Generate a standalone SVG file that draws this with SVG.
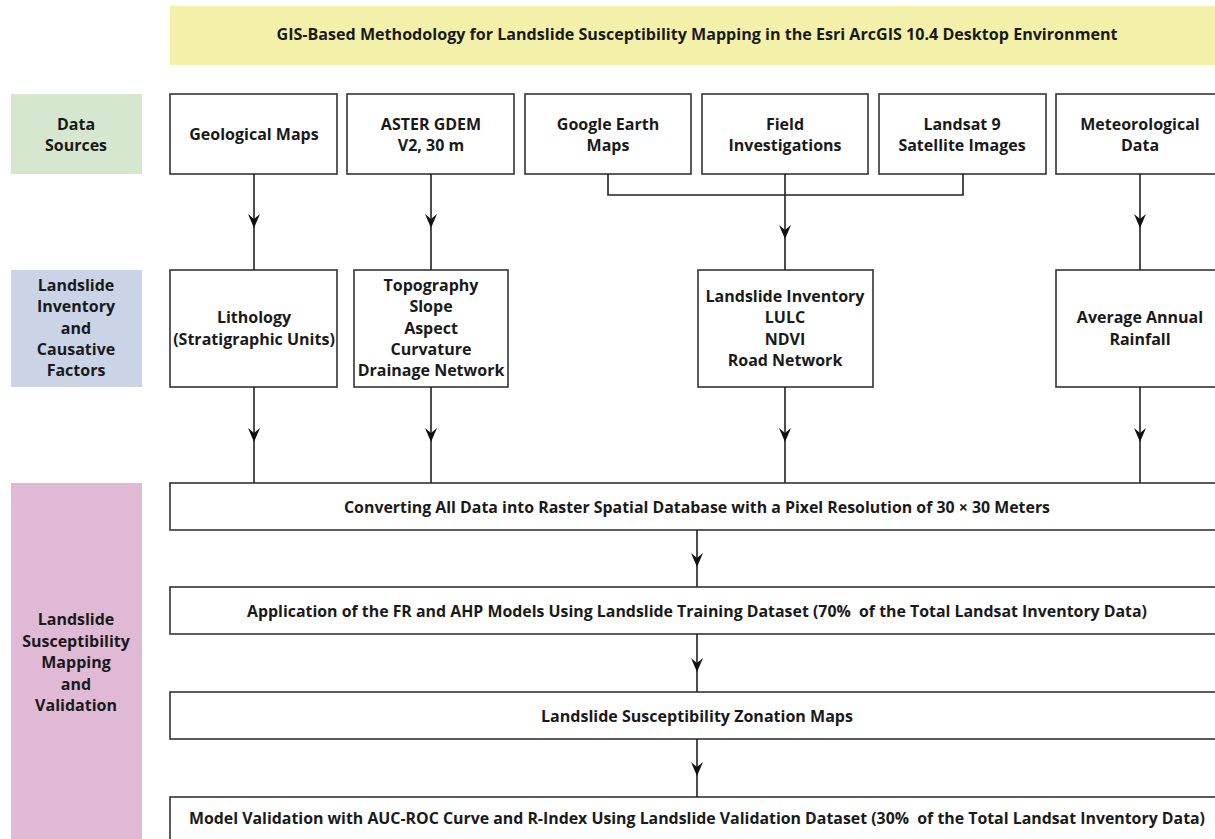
<svg xmlns="http://www.w3.org/2000/svg" width="1215" height="839" viewBox="0 0 1215 839">
<style>
text{font-family:"Open Sans",Lato,"Liberation Sans",sans-serif;font-weight:700;font-size:16px;fill:#1a1a1a;text-anchor:middle}
.box{fill:#fff;stroke:#333;stroke-width:1.6}
.ln{fill:none;stroke:#222;stroke-width:1.6}
.ah{fill:#111}
</style>
<defs>
<path id="ah" d="M-6,-14 L0,0 L6,-14 L0,-9 Z"/>
</defs>
<rect width="1215" height="839" fill="#fff"/>
<g id="title">
<rect x="170" y="6" width="1050" height="59" fill="#f3f1a9"/>
<text x="697" y="40" textLength="841" lengthAdjust="spacingAndGlyphs">GIS-Based Methodology for Landslide Susceptibility Mapping in the Esri ArcGIS 10.4 Desktop Environment</text>
</g>
<g id="lbl-data">
<rect x="11" y="94" width="131" height="80" fill="#d5e8cf"/>
<text x="76" y="130">Data</text><text x="76" y="151">Sources</text>
</g>
<g id="lbl-factors">
<rect x="11" y="270" width="131" height="117" fill="#cbd4e7"/>
<text x="76" y="291">Landslide</text><text x="76" y="312">Inventory</text><text x="76" y="334">and</text><text x="76" y="355">Causative</text><text x="76" y="376">Factors</text>
</g>
<g id="lbl-lsm">
<rect x="11" y="483" width="131" height="360" fill="#e0b9d5"/>
<text x="76" y="625">Landslide</text><text x="76" y="647">Susceptibility</text><text x="76" y="668">Mapping</text><text x="76" y="690">and</text><text x="76" y="711">Validation</text>
</g>
<g id="n-geo"><rect class="box" x="170" y="94" width="167" height="80"/><text x="254" y="140">Geological Maps</text></g>
<g id="n-aster"><rect class="box" x="347" y="94" width="167" height="80"/><text x="431" y="130">ASTER GDEM</text><text x="431" y="151">V2, 30 m</text></g>
<g id="n-google"><rect class="box" x="525" y="94" width="166" height="80"/><text x="608" y="130">Google Earth</text><text x="608" y="151">Maps</text></g>
<g id="n-field"><rect class="box" x="702" y="94" width="166" height="80"/><text x="785" y="130">Field</text><text x="785" y="151">Investigations</text></g>
<g id="n-landsat"><rect class="box" x="879" y="94" width="167" height="80"/><text x="962" y="130">Landsat 9</text><text x="962" y="151">Satellite Images</text></g>
<g id="n-meteo"><rect class="box" x="1056" y="94" width="170" height="80"/><text x="1140" y="130">Meteorological</text><text x="1140" y="151">Data</text></g>
<g id="n-litho"><rect class="box" x="170" y="270" width="167" height="117"/><text x="254" y="323">Lithology</text><text x="254" y="345">(Stratigraphic Units)</text></g>
<g id="n-topo"><rect class="box" x="354" y="270" width="154" height="117"/><text x="431" y="291">Topography</text><text x="431" y="312">Slope</text><text x="431" y="334">Aspect</text><text x="431" y="355">Curvature</text><text x="431" y="376">Drainage Network</text></g>
<g id="n-inv"><rect class="box" x="698" y="270" width="175" height="117"/><text x="785" y="302">Landslide Inventory</text><text x="785" y="323">LULC</text><text x="785" y="345">NDVI</text><text x="785" y="366">Road Network</text></g>
<g id="n-rain"><rect class="box" x="1056" y="270" width="170" height="117"/><text x="1140" y="323">Average Annual</text><text x="1140" y="345">Rainfall</text></g>
<g id="n-convert"><rect class="box" x="170" y="483" width="1056" height="47"/><text x="697" y="513" textLength="706" lengthAdjust="spacingAndGlyphs">Converting All Data into Raster Spatial Database with a Pixel Resolution of 30 × 30 Meters</text></g>
<g id="n-apply"><rect class="box" x="170" y="587" width="1056" height="47"/><text x="697" y="617" textLength="900" lengthAdjust="spacingAndGlyphs">Application of the FR and AHP Models Using Landslide Training Dataset (70%&#160; of the Total Landsat Inventory Data)</text></g>
<g id="n-zone"><rect class="box" x="170" y="692" width="1056" height="47"/><text x="697" y="722" textLength="312" lengthAdjust="spacingAndGlyphs">Landslide Susceptibility Zonation Maps</text></g>
<g id="n-valid"><rect class="box" x="170" y="797" width="1056" height="50"/><text x="697" y="824" textLength="1016" lengthAdjust="spacingAndGlyphs">Model Validation with AUC-ROC Curve and R-Index Using Landslide Validation Dataset (30%&#160; of the Total Landsat Inventory Data)</text></g>
<g id="connectors">
<path class="ln" d="M254,174V270 M431,174V270 M608,174V195H963V174 M785,174V270 M1140,174V270 M254,387V483 M431,387V483 M785,387V483 M1140,387V483 M697,530V587 M697,634V692 M697,739V797"/>
<use href="#ah" class="ah" x="254" y="228"/>
<use href="#ah" class="ah" x="431" y="228"/>
<use href="#ah" class="ah" x="785" y="239"/>
<use href="#ah" class="ah" x="1140" y="228"/>
<use href="#ah" class="ah" x="254" y="442"/>
<use href="#ah" class="ah" x="431" y="442"/>
<use href="#ah" class="ah" x="785" y="442"/>
<use href="#ah" class="ah" x="1140" y="442"/>
<use href="#ah" class="ah" x="697" y="567"/>
<use href="#ah" class="ah" x="697" y="672"/>
<use href="#ah" class="ah" x="697" y="776"/>
</g>
</svg>
